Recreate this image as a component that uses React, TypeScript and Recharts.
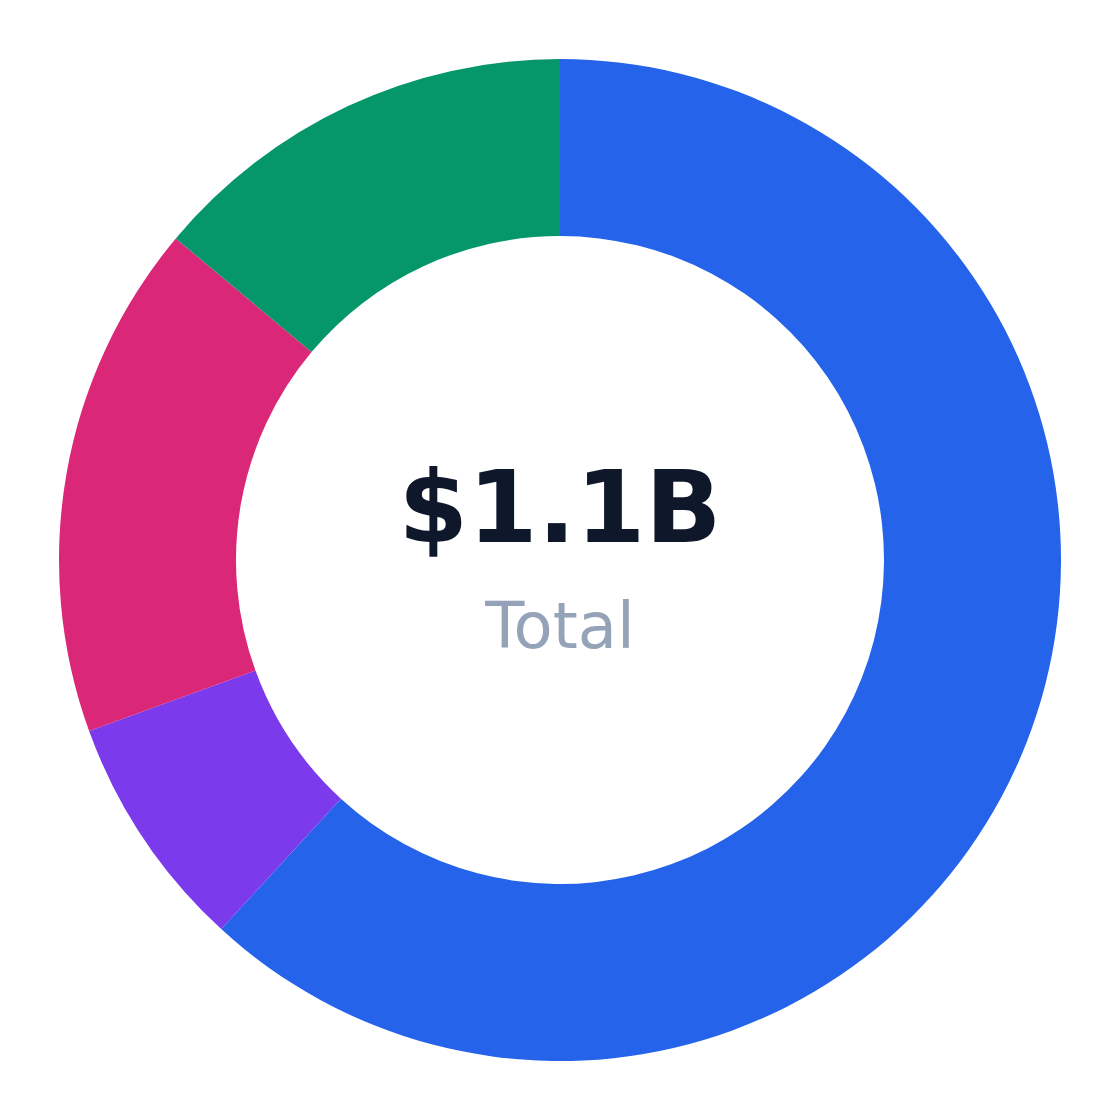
import React from "react";
import { PieChart, Pie, Cell, Label } from "recharts";

const categories = ["Blue", "Purple", "Pink", "Green"];
const values = [680, 84, 183, 153];
const colors = ["#2563eb", "#7c3aed", "#db2777", "#059669"];
const totalLabel = "$1.1B";
const subLabel = "Total";

const data = categories.map((name, i) => ({ name, value: values[i] }));

const CenterLabel = (props: any) => {
  const vb = props.viewBox || {};
  const cx = vb.cx ?? 552;
  const cy = vb.cy ?? 552;
  return (
    <g>
      <text
        x={cx}
        y={cy - 18}
        textAnchor="middle"
        fontFamily="DejaVu Sans"
        fontWeight="bold"
        fontSize={100}
        fill="#0f172a"
      >
        {totalLabel}
      </text>
      <text
        x={cx}
        y={cy + 88}
        textAnchor="middle"
        fontFamily="DejaVu Sans"
        fontSize={64}
        fill="#94a3b8"
      >
        {subLabel}
      </text>
    </g>
  );
};

export default function App() {
  return (
    <div style={{ width: 1104, height: 1104, background: "#ffffff" }}>
      <PieChart width={1104} height={1104} margin={{ top: 0, right: 0, bottom: 0, left: 0 }}>
        <Pie
          data={data}
          dataKey="value"
          nameKey="name"
          cx={552}
          cy={552}
          innerRadius={324}
          outerRadius={501}
          startAngle={90}
          endAngle={-270}
          stroke="none"
          isAnimationActive={false}
        >
          {data.map((d, i) => (
            <Cell key={d.name} fill={colors[i]} />
          ))}
          <Label position="center" content={<CenterLabel />} />
        </Pie>
      </PieChart>
    </div>
  );
}
